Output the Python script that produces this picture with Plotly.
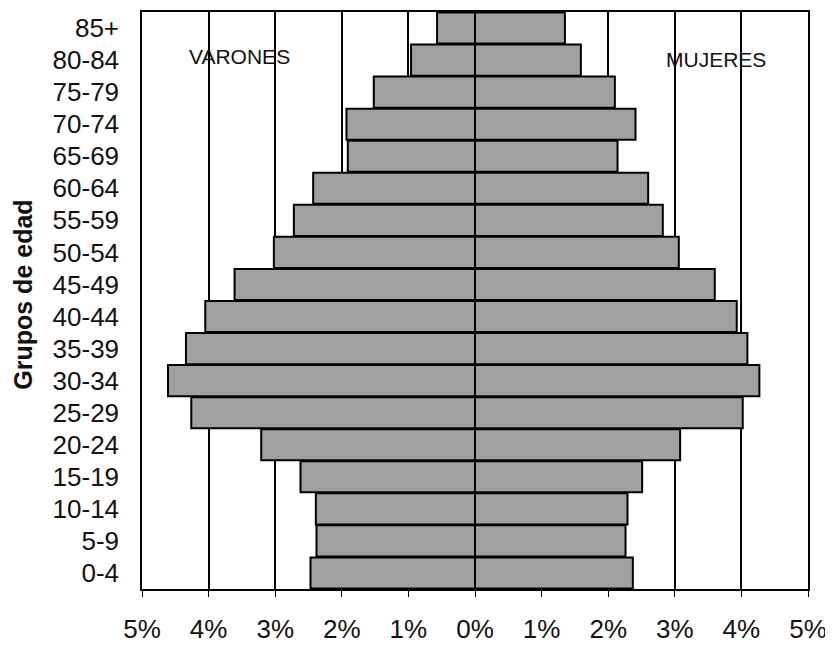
import plotly.graph_objects as go

grupos = ["0-4", "5-9", "10-14", "15-19", "20-24", "25-29", "30-34", "35-39",
          "40-44", "45-49", "50-54", "55-59", "60-64", "65-69", "70-74",
          "75-79", "80-84", "85+"]
varones = [2.47, 2.38, 2.39, 2.62, 3.21, 4.26, 4.61, 4.34, 4.05, 3.61,
           3.02, 2.72, 2.43, 1.91, 1.93, 1.52, 0.96, 0.57]
mujeres = [2.37, 2.26, 2.29, 2.51, 3.08, 4.02, 4.27, 4.09, 3.93, 3.60,
           3.06, 2.82, 2.60, 2.14, 2.41, 2.10, 1.59, 1.35]
tick_vals = [-5, -4, -3, -2, -1, 0, 1, 2, 3, 4, 5]
tick_text = ["5%", "4%", "3%", "2%", "1%", "0%", "1%", "2%", "3%", "4%", "5%"]

bar_style = dict(color="#a0a0a0", line=dict(color="#000000", width=2))

fig = go.Figure()
fig.add_trace(go.Bar(y=grupos, x=[-v for v in varones], orientation="h",
                     marker=bar_style, name="Varones", showlegend=False))
fig.add_trace(go.Bar(y=grupos, x=mujeres, orientation="h",
                     marker=bar_style, name="Mujeres", showlegend=False))

fig.update_layout(
    width=825, height=638,
    margin=dict(l=134, r=25, t=2, b=54),
    barmode="overlay", bargap=0.03,
    paper_bgcolor="white", plot_bgcolor="white",
    font=dict(family="Liberation Sans, Arial, sans-serif", color="#111111"),
    xaxis=dict(range=[-5, 5], tickvals=tick_vals, ticktext=tick_text,
               showgrid=True, gridcolor="#000000", gridwidth=1.5,
               zeroline=True, zerolinecolor="#000000", zerolinewidth=1.5,
               showline=True, linecolor="#000000", linewidth=1.5, mirror=True,
               ticks="outside", ticklen=6, tickcolor="#000000",
               ticklabelstandoff=10, tickfont=dict(size=26)),
    yaxis=dict(showgrid=False, showline=True, linecolor="#000000",
               linewidth=1.5, mirror=True, ticks="", ticklabelstandoff=16,
               tickfont=dict(size=26)),
    annotations=[
        dict(text="VARONES", x=-3.53, y=0.9227, xref="x", yref="paper",
             xanchor="center", yanchor="middle",
             showarrow=False, font=dict(size=21)),
        dict(text="MUJERES", x=3.615, y=0.9175, xref="x", yref="paper",
             xanchor="center", yanchor="middle",
             showarrow=False, font=dict(size=21)),
        dict(text="<b>Grupos de edad</b>", x=-119 / 666, y=0.510,
             xref="paper", yref="paper", textangle=-90, showarrow=False,
             xanchor="center", yanchor="middle", font=dict(size=25)),
    ],
)

fig.write_html("out.html")
